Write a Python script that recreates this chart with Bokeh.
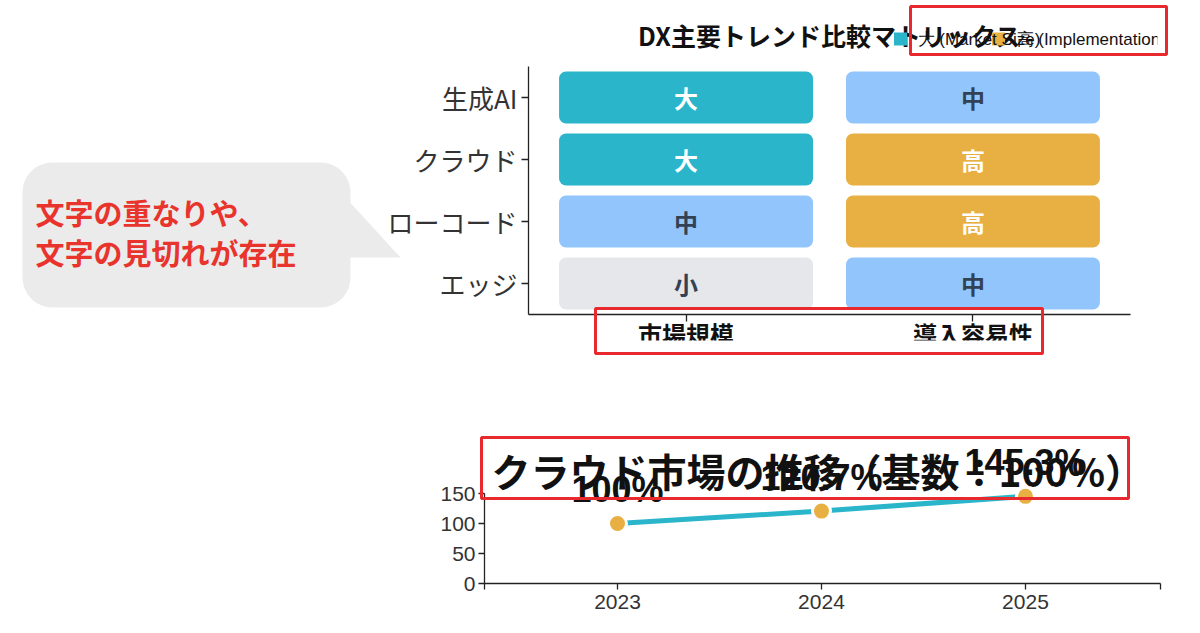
import numpy as np
from bokeh.plotting import figure
from bokeh.models import (ColumnDataSource, FactorRange, Range1d, GridBox, FixedTicker,
                          CustomJSTickFormatter, Label, Rect, Plot)
from bokeh.core.properties import value
from bokeh.embed import file_html
from bokeh.resources import INLINE

# ---------------- data ----------------
heat_title = "DX主要トレンド比較マトリックス"
trends = ["生成AI", "クラウド", "ローコード", "エッジ"]
metrics = ["市場規模", "導入容易性"]
market_size = ["大", "大", "中", "小"]
adoption_ease = ["中", "高", "高", "中"]
legend_labels = ["大 (Market Size)", "高 (Implementation Ease)"]

line_title = "クラウド市場の推移（基数：100%）"
years = [2023, 2024, 2025]
cloud_index = [100, 120.7, 145.3]
y_ticks = [0, 50, 100, 150]

callout_lines = ["文字の重なりや、", "文字の見切れが存在"]

# ---------------- styles ----------------
TEAL = "#2ab5cb"
BLUE = "#93c5fd"
ORANGE = "#e8b042"
GRAY = "#e5e7eb"
RED = "#e8292e"
CALLOUT_RED = "#e8342c"
BUBBLE = "#ebebeb"
INK = "#222222"
JP = "Noto Sans CJK JP"
LAT = "Liberation Sans"
level_fill = {"大": TEAL, "中": BLUE, "高": ORANGE, "小": GRAY}
level_ink = {"大": "#ffffff", "中": "#334155", "高": "#ffffff", "小": "#334155"}

W = 1192
TOP_H = 408
BOT_H = 217
NOALIGN = {"frame_align": False} if "frame_align" in Plot.properties() else {}

# ---------------- heat matrix ----------------
top = figure(width=W, height=TOP_H,
             x_range=FactorRange(factors=metrics, range_padding=0.049),
             y_range=FactorRange(factors=trends[::-1]),
             output_backend="svg", toolbar_location=None,
             min_border_left=528, min_border_right=62, min_border_top=66, min_border_bottom=94,
             **NOALIGN)
top.title.text = heat_title
top.title.text_font = JP
top.title.text_font_size = "25px"
top.title.text_font_style = "bold"
top.title.text_color = "#111111"
top.title.align = "center"
top.title.offset = 16
top.title.standoff = 27
top.grid.visible = False
top.outline_line_color = None

cells = dict(trend=trends * 2,
             metric=[metrics[0]] * len(trends) + [metrics[1]] * len(trends),
             level=market_size + adoption_ease)
cells["fill"] = [level_fill[l] for l in cells["level"]]
cells["ink"] = [level_ink[l] for l in cells["level"]]
csrc = ColumnDataSource(cells)
rkw = {"border_radius": 7} if "border_radius" in Rect.properties() else {}
top.rect(x="metric", y="trend", width=0.885, height=0.84, fill_color="fill",
         line_color=None, source=csrc, **rkw)
top.text(x="metric", y="trend", text="level", text_color="ink", text_align="center",
         text_baseline="middle", text_font=value(JP), text_font_style="bold",
         text_font_size="24px", source=csrc)

for ax in (top.xaxis[0], top.yaxis[0]):
    ax.axis_line_color = INK
    ax.axis_line_width = 1.3
    ax.major_tick_line_color = INK
    ax.major_tick_line_width = 1.3
    ax.minor_tick_line_color = None
    ax.major_tick_in = 0
    ax.major_tick_out = 7
top.yaxis.major_label_text_font = JP
top.yaxis.major_label_text_font_size = "26px"
top.yaxis.major_label_text_color = "#333333"
top.yaxis.major_label_standoff = 4
top.xaxis.major_label_text_font = JP
top.xaxis.major_label_text_font_size = "24px"
top.xaxis.major_label_text_font_style = "bold"
top.xaxis.major_label_text_color = "#111111"
top.xaxis.major_label_standoff = -6

# ---------------- line chart ----------------
x_start, x_end = years[0] - 0.652, years[-1] + 0.662
bot = figure(width=W, height=BOT_H,
             x_range=Range1d(x_start, x_end), y_range=Range1d(0, 291.7),
             output_backend="svg", toolbar_location=None,
             min_border_left=484, min_border_right=32, min_border_top=0, min_border_bottom=42,
             **NOALIGN)
bot.grid.visible = False
bot.outline_line_color = None

lsrc = ColumnDataSource(dict(year=years, idx=cloud_index,
                             label=[f"{v:g}%" for v in cloud_index]))
bot.line("year", "idx", source=lsrc, line_color=TEAL, line_width=5)
bot.scatter("year", "idx", source=lsrc, size=18, fill_color=ORANGE,
            line_color="white", line_width=3)
bot.text("year", "idx", text="label", source=lsrc, text_align="center",
         text_baseline="alphabetic", y_offset=-34, text_font=value(LAT),
         text_font_style="bold", text_font_size="36px", text_color="#111111")
bot.add_layout(Label(x=7, y=114, x_units="screen", y_units="screen", text=line_title,
                     text_font=JP, text_font_style="bold", text_font_size="39px",
                     text_baseline="middle", text_color="#111111"))

for ax in (bot.xaxis[0], bot.yaxis[0]):
    ax.axis_line_color = INK
    ax.axis_line_width = 1.3
    ax.major_tick_line_color = INK
    ax.major_tick_line_width = 1.3
    ax.minor_tick_line_color = None
    ax.major_tick_in = 0
    ax.major_tick_out = 6
    ax.major_label_text_font = LAT
    ax.major_label_text_font_size = "21px"
    ax.major_label_text_color = "#333333"
bot.yaxis.ticker = FixedTicker(ticks=y_ticks)
bot.yaxis.bounds = (y_ticks[0], y_ticks[-1])
bot.yaxis.major_label_standoff = 3
bot.xaxis.ticker = FixedTicker(ticks=[x_start] + years + [x_end])
bot.xaxis.formatter = CustomJSTickFormatter(code="return Number.isInteger(tick) ? String(tick) : ''")
bot.xaxis.major_label_standoff = 5

# ---------------- annotation overlay ----------------
ov = figure(width=W, height=TOP_H + BOT_H, x_range=Range1d(0, W), y_range=Range1d(TOP_H + BOT_H, 0),
            x_axis_location=None, y_axis_location=None, min_border=0,
            output_backend="svg", toolbar_location=None, **NOALIGN)
ov.grid.visible = False
ov.outline_line_color = None
ov.background_fill_alpha = 0
ov.border_fill_alpha = 0


def rounded_rect(l, t, r, b, rad, n=12):
    xs, ys = [], []
    for cx, cy, a0 in ((r - rad, t + rad, -90), (r - rad, b - rad, 0),
                       (l + rad, b - rad, 90), (l + rad, t + rad, 180)):
        ang = np.radians(np.linspace(a0, a0 + 90, n))
        xs.extend(cx + rad * np.cos(ang))
        ys.extend(cy + rad * np.sin(ang))
    return xs, ys


bx, by = rounded_rect(22, 162, 350, 307, 30)
ov.patch(bx, by, fill_color=BUBBLE, line_color=None)
ov.patch([346, 400, 346], [198, 257, 257], fill_color=BUBBLE, line_color=None)
ov.text(x=[35, 35], y=[211, 251], text=callout_lines, text_font=value(JP),
        text_font_style="bold", text_font_size="29px", text_color=CALLOUT_RED,
        text_baseline="middle")

# legend
ov.rect(x=[900, 998], y=[38.5, 38.5], width=13, height=13,
        fill_color=[TEAL, ORANGE], line_color=None)
ov.text(x=[917, 1016], y=[39, 39], text=legend_labels, text_font=value(LAT),
        text_font_size="17px", text_color="#111111", text_baseline="middle")

# clipped areas of the original page (drawn over the overflowing texts)
ov.quad(left=[598, 1157], right=[1039, W], top=[340, 8], bottom=[351, 52],
        fill_color="white", line_color=None)

# red highlight boxes
ov.quad(left=[910, 595, 481], right=[1166, 1042, 1128], top=[6, 308, 437],
        bottom=[54, 353, 498], fill_color=None, line_color=RED, line_width=3)

root = GridBox(children=[(top, 0, 0), (bot, 1, 0), (ov, 0, 0, 2, 1)])

open("out.html", "w").write(file_html(root, INLINE))
